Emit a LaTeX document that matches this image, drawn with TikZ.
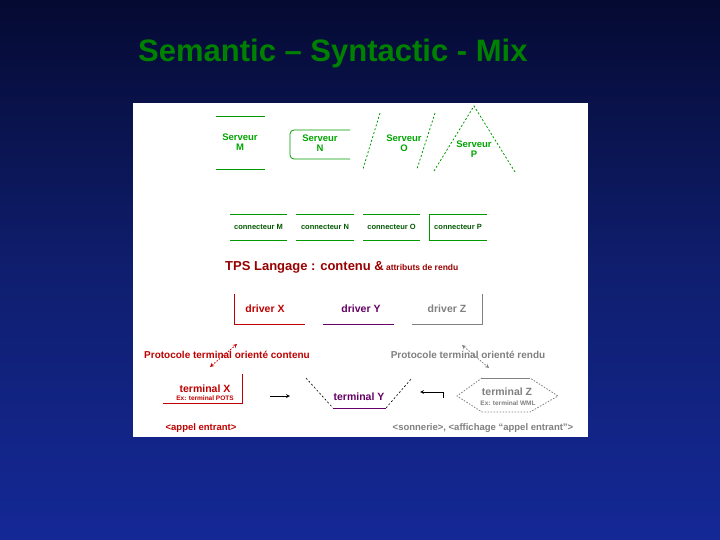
\documentclass[tikz,border=0pt]{standalone}
\usepackage{fontspec}
\setmainfont{Liberation Sans}
\begin{document}
\begin{tikzpicture}[x=1pt,y=-1pt,
 every node/.style={font=\bfseries\fontsize{8}{9}\selectfont,inner sep=0pt},
 gr/.style={draw=green!60!black,line width=0.8pt},
 gd/.style={gr,dashed,dash pattern=on 2pt off 2pt},
 txg/.style={text=green!65!black,align=center,font=\bfseries\fontsize{9.5}{10.5}\selectfont},
 con/.style={font=\fontsize{7.5}{9}\selectfont\bfseries,text=green!35!black},
 rd/.style={draw=red!75!black,line width=0.8pt},
 pu/.style={draw=violet!80!black,line width=0.8pt},
 gy/.style={draw=gray,line width=0.8pt}]
\useasboundingbox (0,0) rectangle (720,540);
\definecolor{bgtop}{RGB}{5,10,50}
\definecolor{bgmid}{RGB}{15,30,110}
\definecolor{bgbot}{RGB}{20,40,150}
\shade[top color=bgtop, bottom color=bgbot, middle color=bgmid] (0,0) rectangle (720,540);
\fill[white] (133,103) rectangle (588,437);
\node[font=\bfseries\fontsize{31}{34}\selectfont,text=green!50!black,anchor=west] (title) at (138,53) {Semantic – Syntactic - Mix};
% servers
\node[txg] (sm) at (240,142) {Serveur\\M};
\draw[gr] (216,116) -- (265,116) (216,169) -- (265,169);
\node[txg] (sn) at (320,143) {Serveur\\N};
\draw[gr,rounded corners=4pt] (350,159) -- (290,159) -- (290,130) -- (350,130);
\node[txg] (so) at (404,143) {Serveur\\O};
\draw[gd] (380,113) -- (363,169) (435,113) -- (417,169);
\node[txg] (sp) at (474,149) {Serveur\\P};
\draw[gd] (434,171) -- (474,106) -- (515,172);
% connecteurs
\foreach \a/\b/\t in {230/287/M,296/354/N,363/420/O,429/487/P}{
 \draw[gr] (\a,214) -- (\b,214) (\a,240) -- (\b,240);
 \node[con] (c\t) at ({(\a+\b)/2},227) {connecteur \t};}
\draw[gr] (429,214) -- (429,240);
% TPS
\node[text=red!60!black,anchor=west] (tps) at (225,267) {{\fontsize{13}{14}\selectfont TPS Langage : contenu \&} {\fontsize{8.5}{9}\selectfont attributs de rendu}};
% drivers
\node[text=red!75!black,font=\bfseries\fontsize{10.5}{12}\selectfont] (dx) at (265,309) {driver X};
\draw[rd] (234,294) -- (234,324) -- (305,324);
\node[text=violet!80!black,font=\bfseries\fontsize{10.5}{12}\selectfont] (dy) at (361,309) {driver Y};
\draw[pu] (323,324) -- (394,324);
\node[text=gray,font=\bfseries\fontsize{10.5}{12}\selectfont] (dz) at (447,309) {driver Z};
\draw[gy] (412,324) -- (482,324) -- (482,294);
% protocols
\node[text=red!75!black,font=\bfseries\fontsize{10}{11}\selectfont] (pc) at (227,355) {Protocole terminal orienté contenu};
\draw[rd,dashed,dash pattern=on 1.5pt off 1.5pt,<->,>=stealth] (210,367) -- (237,344);
\node[text=gray,font=\bfseries\fontsize{10}{11}\selectfont] (pr) at (468,355) {Protocole terminal orienté rendu};
\draw[gy,dashed,dash pattern=on 1.5pt off 1.5pt,<->,>=stealth] (462,345) -- (489,368);
% terminals
\node[text=red!75!black,font=\bfseries\fontsize{10.5}{11}\selectfont] (tx) at (205,389) {terminal X};
\node[text=red!75!black,font=\bfseries\fontsize{6.5}{7}\selectfont] (txe) at (205,398) {Ex: terminal POTS};
\draw[rd] (242,374) -- (242,403) -- (163,403);
\draw[line width=0.8pt,-stealth] (270,396) -- (290,396);
\node[text=violet!80!black,font=\bfseries\fontsize{10.5}{11}\selectfont] (ty) at (359,397) {terminal Y};
\draw[pu] (333,408) -- (386,408);
\draw[line width=0.6pt,dashed,dash pattern=on 2pt off 2pt] (306,378) -- (333,408) (386,408) -- (412,378);
\draw[line width=0.8pt,-stealth] (443,398) -- (443,392) -- (420,392);
\node[text=gray,font=\bfseries\fontsize{10.5}{11}\selectfont] (tz) at (507,392) {terminal Z};
\node[text=gray,font=\bfseries\fontsize{6.5}{7}\selectfont] (tze) at (508,403) {Ex: terminal WML};
\draw[gy] (482,378) -- (530,378);
\draw[gy,dashed,dash pattern=on 1.5pt off 1.5pt] (482,378) -- (457,396) -- (482,412) -- (530,412) -- (558,396) -- (530,378);
\node[text=red!75!black,font=\bfseries\fontsize{9.5}{10}\selectfont] (ae) at (201,428) {<appel entrant>};
\node[text=gray,font=\bfseries\fontsize{9.5}{10}\selectfont] (so2) at (483,428) {<sonnerie>, <affichage “appel entrant”>};
\end{tikzpicture}
\end{document}
